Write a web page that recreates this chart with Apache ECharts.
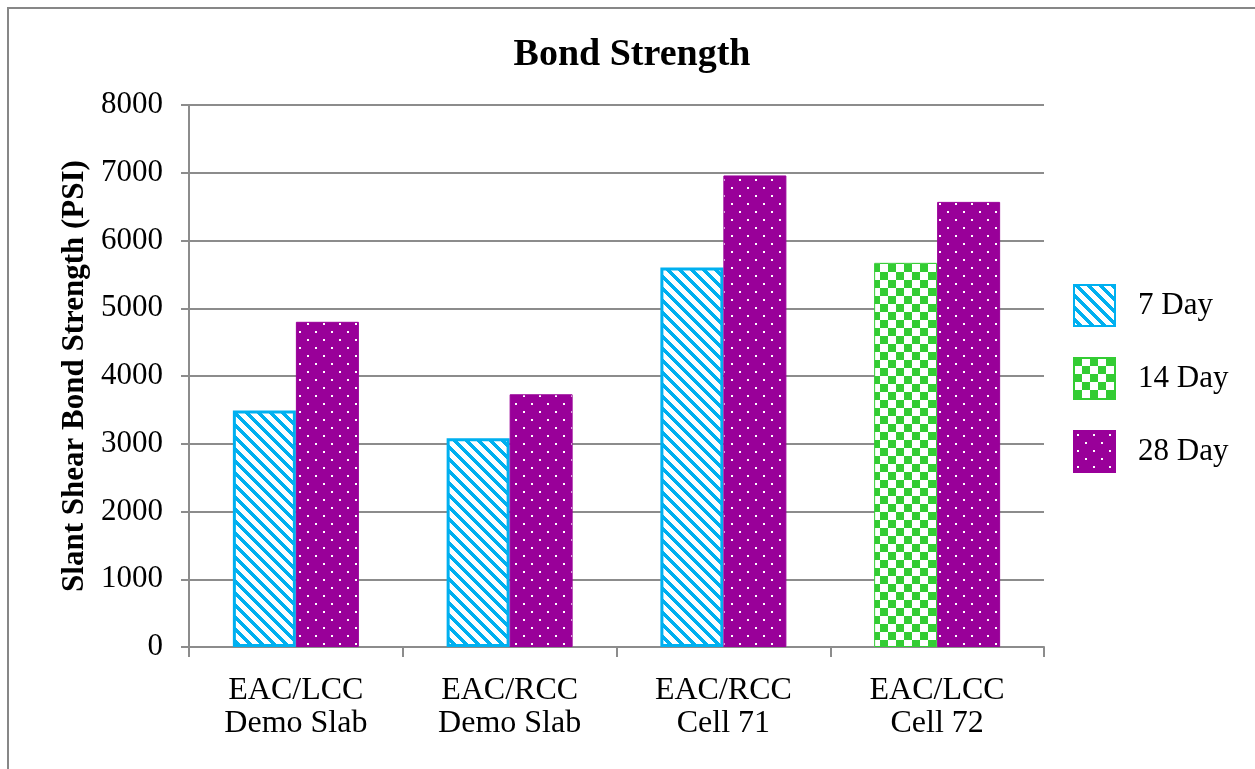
<!DOCTYPE html>
<html>
<head>
<meta charset="utf-8">
<script src="https://cdn.jsdelivr.net/npm/echarts@6/dist/echarts.min.js"></script>
<style>
  html, body { margin: 0; padding: 0; background: #ffffff; }
  #chart { width: 1255px; height: 769px; }
</style>
</head>
<body>
<div id="chart"></div>
<script>
// Bond strength test results (PSI)
const categories = ['EAC/LCC\nDemo Slab', 'EAC/RCC\nDemo Slab', 'EAC/RCC\nCell 71', 'EAC/LCC\nCell 72'];
const day7 = [3490, 3080, 5600, '-'];
const day14 = ['-', '-', '-', 5670];
const day28 = [4800, 3730, 6960, 6570];
const yTicks = { min: 0, max: 8000, interval: 1000 };

const SERIF = '"Liberation Serif", "Times New Roman", serif';
const CYAN = '#00B0F0';
const GREEN = '#33CC33';
const PURPLE = '#990099';

// Pattern tiles drawn on small canvases
function tile(size, paint) {
  const c = document.createElement('canvas');
  c.width = size; c.height = size;
  const ctx = c.getContext('2d');
  paint(ctx, size);
  return c;
}
function hex(c) {
  return [parseInt(c.slice(1, 3), 16), parseInt(c.slice(3, 5), 16), parseInt(c.slice(5, 7), 16)];
}
// diagonal "\" stripes
const stripeTile = tile(12, (ctx, s) => {
  const img = ctx.createImageData(s, s);
  const rgb = hex(CYAN);
  for (let y = 0; y < s; y++) {
    for (let x = 0; x < s; x++) {
      const i = (y * s + x) * 4;
      const on = (((x - y) % s) + s) % s < 5;
      img.data[i] = on ? rgb[0] : 255;
      img.data[i + 1] = on ? rgb[1] : 255;
      img.data[i + 2] = on ? rgb[2] : 255;
      img.data[i + 3] = 255;
    }
  }
  ctx.putImageData(img, 0, 0);
});
// checkerboard
const checkTile = tile(16, (ctx, s) => {
  ctx.fillStyle = '#ffffff';
  ctx.fillRect(0, 0, s, s);
  ctx.fillStyle = GREEN;
  ctx.fillRect(0, 0, 8, 8);
  ctx.fillRect(8, 8, 8, 8);
});
// staggered white dots
const dotTile = tile(16, (ctx, s) => {
  ctx.fillStyle = PURPLE;
  ctx.fillRect(0, 0, s, s);
  ctx.fillStyle = '#ffffff';
  ctx.fillRect(3, 3, 2, 2);
  ctx.fillRect(11, 11, 2, 2);
});

const chart = echarts.init(document.getElementById('chart'), null, { renderer: 'canvas' });

chart.setOption({
  backgroundColor: '#ffffff',
  animation: false,
  title: {
    text: 'Bond Strength',
    left: 627,
    top: 31,
    textAlign: 'center',
    textStyle: { fontFamily: SERIF, fontSize: 38, fontWeight: 'bold', color: '#000000' }
  },
  graphic: [{
    type: 'rect',
    shape: { x: 8, y: 8, width: 1300, height: 800 },
    style: { fill: 'none', stroke: '#878787', lineWidth: 2 },
    silent: true
  }],
  legend: {
    orient: 'vertical',
    left: 1068,
    top: 279,
    icon: 'rect',
    itemWidth: 41,
    itemHeight: 41,
    itemGap: 30,
    textStyle: { fontFamily: SERIF, fontSize: 31, color: '#000000', padding: [0, 0, 0, 18] },
    data: ['7 Day', '14 Day', '28 Day']
  },
  grid: { left: 189, right: 211, top: 105, bottom: 122, containLabel: false },
  xAxis: {
    type: 'category',
    data: categories,
    axisLine: { lineStyle: { color: '#8c8c8c', width: 2 } },
    axisTick: { show: true, length: 10, lineStyle: { color: '#8c8c8c', width: 2 } },
    axisLabel: { fontFamily: SERIF, fontSize: 32, color: '#000000', margin: 27, lineHeight: 33, interval: 0 }
  },
  yAxis: {
    type: 'value',
    min: yTicks.min,
    max: yTicks.max,
    interval: yTicks.interval,
    name: 'Slant Shear Bond Strength (PSI)',
    nameLocation: 'middle',
    nameGap: 93,
    nameTextStyle: { fontFamily: SERIF, fontSize: 31, fontWeight: 'bold', color: '#000000' },
    axisLine: { show: true, lineStyle: { color: '#8c8c8c', width: 2 } },
    axisTick: { show: true, length: 8, lineStyle: { color: '#8c8c8c', width: 2 } },
    axisLabel: { fontFamily: SERIF, fontSize: 31, color: '#000000', margin: 26, formatter: v => String(v) },
    splitLine: { lineStyle: { color: '#8c8c8c', width: 2 } }
  },
  series: [
    {
      name: '7 Day',
      type: 'bar',
      stack: 'early',
      data: day7,
      barWidth: 63,
      barGap: '0%',
      itemStyle: { color: { image: stripeTile, repeat: 'repeat' }, borderColor: CYAN, borderWidth: 3 }
    },
    {
      name: '14 Day',
      type: 'bar',
      stack: 'early',
      data: day14,
      barWidth: 63,
      barGap: '0%',
      itemStyle: { color: { image: checkTile, repeat: 'repeat' }, borderColor: GREEN, borderWidth: 1 }
    },
    {
      name: '28 Day',
      type: 'bar',
      data: day28,
      barWidth: 63,
      barGap: '0%',
      itemStyle: { color: { image: dotTile, repeat: 'repeat' }, borderColor: PURPLE, borderWidth: 1 }
    }
  ]
});
</script>
</body>
</html>
